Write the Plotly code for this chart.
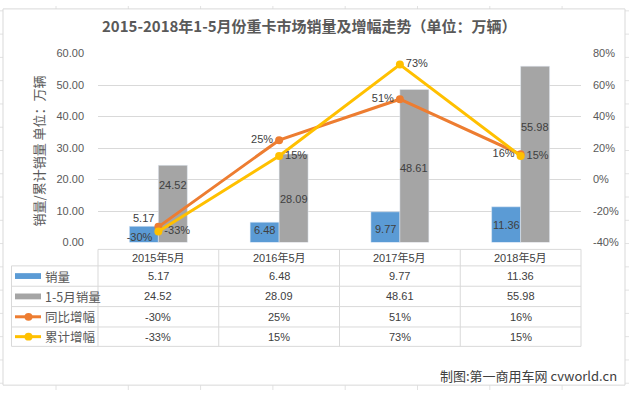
import plotly.graph_objects as go

# ---------------- data ----------------
categories = ["2015年5月", "2016年5月", "2017年5月", "2018年5月"]
monthly_sales = [5.17, 6.48, 9.77, 11.36]          # 销量 (万辆)
ytd_sales = [24.52, 28.09, 48.61, 55.98]            # 1-5月销量 (万辆)
yoy_growth = [-30, 25, 51, 16]                      # 同比增幅 (%)
ytd_growth = [-33, 15, 73, 15]                      # 累计增幅 (%)
series_names = ["销量", "1-5月销量", "同比增幅", "累计增幅"]
left_ticks = [0, 10, 20, 30, 40, 50, 60]
right_ticks = [-40, -20, 0, 20, 40, 60, 80]

title_text = "2015-2018年1-5月份重卡市场销量及增幅走势（单位：万辆）"
ytitle_text = "销量/累计销量 单位：万辆"
credit_text = "制图:第一商用车网 cvworld.cn"

# ---------------- style ----------------
W, H = 629, 396
C_BLUE, C_GRAY, C_ORANGE, C_YELLOW = "#5B9BD5", "#A5A5A5", "#ED7D31", "#FFC000"
GRID = "#D9D9D9"
TXT = "#404040"
AX = "#595959"
FONT = "Liberation Sans, Noto Sans CJK SC, sans-serif"
CJK = "Noto Sans CJK SC, Liberation Sans, sans-serif"


def px(x):
    return x / W


def py(y):
    return 1 - y / H


PX0, PX1 = 98, 581      # plot area left/right (px)
PY0, PY1 = 49, 244      # plot area top/bottom (px)

fig = go.Figure()

fig.add_trace(go.Bar(x=categories, y=monthly_sales, name=series_names[0],
                     marker_color=C_BLUE, showlegend=False, hoverinfo="skip"))
fig.add_trace(go.Bar(x=categories, y=ytd_sales, name=series_names[1],
                     marker_color=C_GRAY, showlegend=False, hoverinfo="skip"))
fig.add_trace(go.Scatter(x=categories, y=yoy_growth, name=series_names[2], yaxis="y2",
                         mode="lines+markers+text",
                         text=[f"{v}%" for v in yoy_growth],
                         textposition=["bottom left", "middle left", "middle left", "middle left"],
                         textfont=dict(size=11, color=TXT, family=FONT),
                         line=dict(color=C_ORANGE, width=3),
                         marker=dict(size=8, color=C_ORANGE), showlegend=False, hoverinfo="skip"))
fig.add_trace(go.Scatter(x=categories, y=ytd_growth, name=series_names[3], yaxis="y2",
                         mode="lines+markers+text",
                         text=[f"{v}%" for v in ytd_growth],
                         textposition="middle right",
                         textfont=dict(size=11, color=TXT, family=FONT),
                         line=dict(color=C_YELLOW, width=3),
                         marker=dict(size=8, color=C_YELLOW), showlegend=False, hoverinfo="skip"))

annotations = []


def ann(**kw):
    base = dict(showarrow=False, xanchor="center", yanchor="middle")
    base.update(kw)
    annotations.append(base)


# bar data labels (anchored at bar centre, nudged like the original)
blue_shift = [16, 2, -2, 0]
gray_shift = [19, -1, -2, 27]
for i, c in enumerate(categories):
    ann(x=c, y=monthly_sales[i] / 2, xref="x", yref="y", xshift=-14.5, yshift=blue_shift[i],
        text=f"{monthly_sales[i]:.2f}", font=dict(size=11, color=TXT, family=FONT))
    ann(x=c, y=ytd_sales[i] / 2, xref="x", yref="y", xshift=14.5, yshift=gray_shift[i],
        text=f"{ytd_sales[i]:.2f}", font=dict(size=11, color=TXT, family=FONT))

# title, axis title, credit
ann(x=px(309), y=py(20), xref="paper", yref="paper", text=f"<b>{title_text}</b>",
    font=dict(size=15, color=AX, family=CJK))
ann(x=px(38), y=py(150), xref="paper", yref="paper", text=ytitle_text, textangle=-90,
    font=dict(size=13, color=AX, family=CJK))
ann(x=px(619), y=py(381), xref="paper", yref="paper", text=credit_text, xanchor="right",
    font=dict(size=13, color=TXT, family=CJK))

# ---------------- data table ----------------
row_lines = [251, 268, 289, 310, 331, 351]
row_centers = [(row_lines[k] + row_lines[k + 1]) / 2 for k in range(len(row_lines) - 1)]
TL = 11.5  # table left edge
col_w = (PX1 - PX0) / len(categories)
col_bounds = [PX0 + k * col_w for k in range(len(categories) + 1)]

shapes = []
# Excel sheet cell grid behind the chart
for k in range(9):
    xg = 56 + 72.3 * k
    shapes.append(dict(type="line", xref="paper", yref="paper", x0=px(xg), x1=px(xg), y0=0, y1=1,
                       line=dict(color="#E2E2E2", width=1), layer="below"))
for k in range(17):
    yg = 5 + 24 * k
    shapes.append(dict(type="line", xref="paper", yref="paper", x0=0, x1=1, y0=py(yg), y1=py(yg),
                       line=dict(color="#E2E2E2", width=1), layer="below"))
# chart area
shapes.append(dict(type="rect", xref="paper", yref="paper", x0=px(3), x1=px(625), y0=py(391), y1=py(3),
                   fillcolor="white", line=dict(color=GRID, width=1), layer="below"))

# table lines
shapes.append(dict(type="line", xref="paper", yref="paper", x0=px(PX0), x1=px(PX1),
                   y0=py(row_lines[0]), y1=py(row_lines[0]), line=dict(color=GRID, width=1)))
for yl in row_lines[1:]:
    shapes.append(dict(type="line", xref="paper", yref="paper", x0=px(TL), x1=px(PX1),
                       y0=py(yl), y1=py(yl), line=dict(color=GRID, width=1)))
shapes.append(dict(type="line", xref="paper", yref="paper", x0=px(TL), x1=px(TL),
                   y0=py(row_lines[1]), y1=py(row_lines[-1]), line=dict(color=GRID, width=1)))
for xb in col_bounds:
    shapes.append(dict(type="line", xref="paper", yref="paper", x0=px(xb), x1=px(xb),
                       y0=py(row_lines[0]), y1=py(row_lines[-1]), line=dict(color=GRID, width=1)))

# header row: categories
for c in categories:
    ann(x=c, y=py(row_centers[0]), xref="x", yref="paper", text=c,
        font=dict(size=11, color=TXT, family=FONT))

table_rows = [
    [f"{v:.2f}" for v in monthly_sales],
    [f"{v:.2f}" for v in ytd_sales],
    [f"{v}%" for v in yoy_growth],
    [f"{v}%" for v in ytd_growth],
]
key_colors = [C_BLUE, C_GRAY, C_ORANGE, C_YELLOW]
for r, vals in enumerate(table_rows):
    yc = row_centers[r + 1]
    for i, c in enumerate(categories):
        ann(x=c, y=py(yc), xref="x", yref="paper", text=vals[i],
            font=dict(size=11, color=TXT, family=FONT))
    # legend key
    if r < 2:
        shapes.append(dict(type="rect", xref="paper", yref="paper", x0=px(15), x1=px(41),
                           y0=py(yc + 3), y1=py(yc - 3), fillcolor=key_colors[r], line=dict(width=0)))
    else:
        shapes.append(dict(type="line", xref="paper", yref="paper", x0=px(15), x1=px(41),
                           y0=py(yc), y1=py(yc), line=dict(color=key_colors[r], width=3)))
        shapes.append(dict(type="circle", xref="paper", yref="paper", x0=px(24.5), x1=px(32.5),
                           y0=py(yc + 4), y1=py(yc - 4), fillcolor=key_colors[r],
                           line=dict(color=key_colors[r], width=0)))
    ann(x=px(43), y=py(yc), xref="paper", yref="paper", text=series_names[r], xanchor="left",
        font=dict(size=12.5, color=AX, family=CJK))

fig.update_layout(
    width=W, height=H,
    margin=dict(l=0, r=0, t=0, b=0),
    paper_bgcolor="white", plot_bgcolor="rgba(0,0,0,0)",
    barmode="group", bargap=0.52, bargroupgap=0,
    font=dict(family=FONT, color=AX, size=11),
    hovermode=False,
    xaxis=dict(domain=[px(PX0), px(PX1)], showticklabels=False, showgrid=False,
               zeroline=False, showline=False, ticks=""),
    yaxis=dict(domain=[py(PY1), py(PY0)], range=[0, 60], tickvals=left_ticks,
               tickformat=".2f", showgrid=True, gridcolor=GRID, gridwidth=1,
               zeroline=False, showline=False, ticklabelstandoff=13,
               tickfont=dict(size=11, color=AX, family=FONT)),
    yaxis2=dict(overlaying="y", side="right", anchor="x", range=[-40, 80], tickvals=right_ticks,
                ticktext=[f"{v}%" for v in right_ticks],
                showgrid=False, zeroline=False, showline=False,
                ticklabelstandoff=11, tickfont=dict(size=11, color=AX, family=FONT)),
    shapes=shapes,
    annotations=annotations,
)

fig.write_html("out.html", config={"displayModeBar": False},
               post_script="document.body.style.margin='0';document.body.style.overflow='hidden';")
